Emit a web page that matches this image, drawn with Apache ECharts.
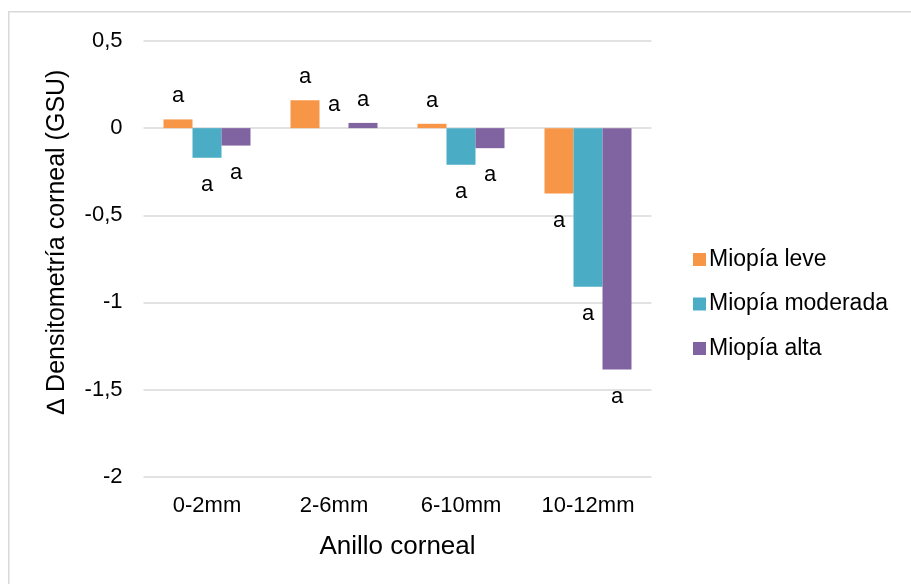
<!DOCTYPE html>
<html>
<head>
<meta charset="utf-8">
<script src="https://cdn.jsdelivr.net/npm/echarts@6/dist/echarts.min.js"></script>
<style>
  html, body { margin: 0; padding: 0; background: #ffffff; }
  #chart { width: 911px; height: 584px; }
</style>
</head>
<body>
<div id="chart"></div>
<script>
// Corneal rings on the category axis
const categories = ['0-2mm', '2-6mm', '6-10mm', '10-12mm'];

// Change in corneal densitometry (GSU) per myopia group
const miopiaLeve = [0.05, 0.16, 0.025, -0.375];
const miopiaModerada = [-0.17, 0.0, -0.21, -0.91];
const miopiaAlta = [-0.10, 0.03, -0.115, -1.385];

// Significance letters shown at each bar end
const letrasLeve = ['a', 'a', 'a', 'a'];
const letrasModerada = ['a', 'a', 'a', 'a'];
const letrasAlta = ['a', 'a', 'a', 'a'];

// Value-axis ticks
const yTicks = [-2, -1.5, -1, -0.5, 0, 0.5];

const FONT = '"Liberation Sans", Arial, sans-serif';
const TEXT = '#000000';
const GRID = '#d9d9d9';

function buildSeries(name, values, letters, color) {
  return {
    name: name,
    type: 'bar',
    barGap: '0%',
    barCategoryGap: '31.5%',
    itemStyle: { color: color },
    data: values.map(v => ({
      value: v,
      label: v >= 0 ? { position: 'top', distance: 12 } : { position: 'bottom', distance: 16 }
    })),
    label: {
      show: true,
      fontSize: 22,
      fontFamily: FONT,
      color: TEXT,
      formatter: p => letters[p.dataIndex]
    }
  };
}

const chart = echarts.init(document.getElementById('chart'), null, { renderer: 'canvas' });

chart.setOption({
  backgroundColor: '#ffffff',
  animation: false,
  textStyle: { fontFamily: FONT },
  graphic: [{
    type: 'rect',
    shape: { x: 8.75, y: 11.75, width: 1000, height: 1000 },
    style: { fill: 'none', stroke: '#d9d9d9', lineWidth: 1.5 },
    silent: true,
    z: -1
  }],
  grid: {
    left: 143.5,
    right: 259.5,
    top: 41,
    bottom: 107.3,
    containLabel: false
  },
  legend: {
    orient: 'vertical',
    left: 688,
    top: 243,
    itemWidth: 13,
    itemHeight: 13,
    itemGap: 21.5,
    icon: 'rect',
    textStyle: { fontSize: 23, fontFamily: FONT, color: TEXT, padding: [0, 0, 0, -2] },
    data: ['Miopía leve', 'Miopía moderada', 'Miopía alta']
  },
  xAxis: {
    type: 'category',
    data: categories,
    axisLine: { show: false, onZero: false },
    axisTick: { show: false },
    axisLabel: { fontSize: 22, fontFamily: FONT, color: TEXT, margin: 18 },
    name: 'Anillo corneal',
    nameLocation: 'middle',
    nameGap: 57,
    nameTextStyle: { fontSize: 26, fontFamily: FONT, color: TEXT }
  },
  yAxis: {
    type: 'value',
    min: yTicks[0],
    max: yTicks[yTicks.length - 1],
    interval: 0.5,
    axisLine: { show: false },
    axisTick: { show: false },
    splitLine: { lineStyle: { color: GRID, width: 1.5 } },
    axisLabel: {
      fontSize: 22,
      fontFamily: FONT,
      color: TEXT,
      margin: 21,
      formatter: v => String(v).replace('.', ',')
    },
    name: '∆ Densitometría corneal (GSU)',
    nameLocation: 'middle',
    nameGap: 74,
    nameTextStyle: { fontSize: 25, fontFamily: FONT, color: TEXT, padding: [0, 0, 0, 34] }
  },
  series: [
    buildSeries('Miopía leve', miopiaLeve, letrasLeve, '#F79646'),
    buildSeries('Miopía moderada', miopiaModerada, letrasModerada, '#4BACC6'),
    buildSeries('Miopía alta', miopiaAlta, letrasAlta, '#8064A2')
  ]
});
</script>
</body>
</html>
